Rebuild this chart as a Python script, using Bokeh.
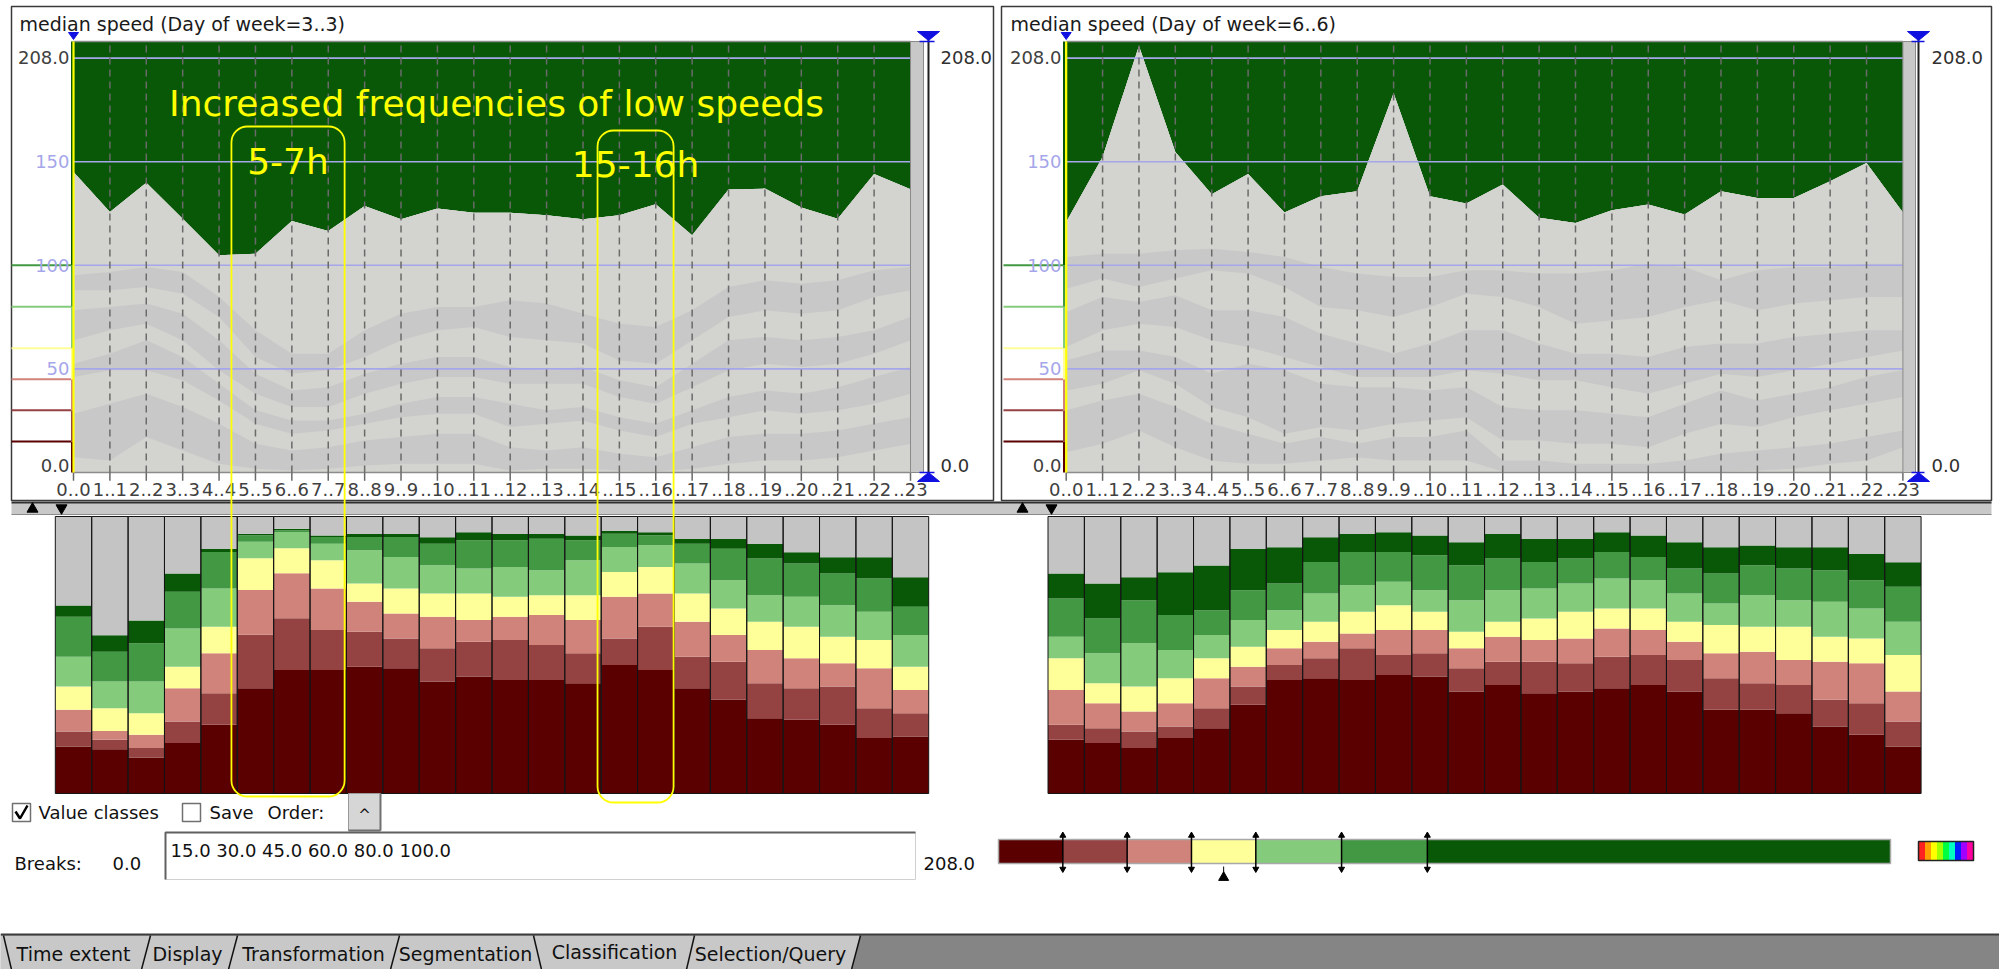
import numpy as np
from bokeh.plotting import figure
from bokeh.models import Range1d, BoxAnnotation
from bokeh.core.properties import value
from bokeh.embed import file_html
from bokeh.resources import INLINE

# ------------------------------------------------------------------ data
hours = list(range(24))
hour_labels = ["0..0", "1..1", "2..2", "3..3", "4..4", "5..5", "6..6", "7..7", "8..8", "9..9",
               "..10", "..11", "..12", "..13", "..14", "..15", "..16", "..17", "..18", "..19",
               "..20", "..21", "..22", "..23"]
panel_titles = ["median speed (Day of week=3..3)", "median speed (Day of week=6..6)"]
speed_max = 208.0
y_grid = [50, 100, 150, 200]
y_tick_pos = [200.5, 150, 100, 50, 3.5]
y_tick_labels = ["208.0", "150", "100", "50", "0.0"]
breaks = [15.0, 30.0, 45.0, 60.0, 80.0, 100.0]
breaks_text = "15.0 30.0 45.0 60.0 80.0 100.0"
class_colors = ["#5a0000", "#944242", "#d0837a", "#ffff99", "#84cc7c", "#439843", "#085808"]

# upper envelope of the speed profile (km/h)
wed_median = [145.0, 125.7, 139.8, 122.5, 104.8, 105.6, 121.4, 116.6, 128.6, 122.2, 127.4, 125.4,
              125.3, 124.2, 122.2, 124.2, 129.5, 114.5, 136.6, 137.0, 127.9, 122.5, 144.0, 136.7]
sat_median = [120.9, 152.3, 205.8, 154.7, 134.3, 144.0, 125.5, 133.3, 135.7, 183.0, 133.3, 129.8,
              139.0, 122.9, 120.4, 126.6, 129.3, 124.5, 135.7, 132.5, 132.5, 140.6, 149.4, 125.5]

# band boundaries inside the grey area (descending)
wed_bands = [
    [95.2, 96.8, 99.2, 96.8, 84.7, 68.6, 57.3, 57.3, 68.6, 76.6, 79.9, 79.9, 83.1, 81.5, 76.6, 71.8, 70.2, 78.3, 89.5, 92.8, 91.1, 92.8, 97.6, 99.2],
    [87.9, 87.9, 89.5, 86.3, 75.0, 55.7, 47.7, 49.3, 55.7, 63.8, 68.6, 70.2, 65.4, 63.8, 62.2, 54.1, 52.5, 63.8, 75.0, 78.3, 76.6, 78.3, 84.7, 87.9],
    [78.3, 79.9, 81.5, 76.6, 63.8, 47.7, 39.6, 41.2, 47.7, 52.5, 55.7, 55.7, 50.9, 49.3, 50.9, 44.5, 41.2, 52.5, 63.8, 65.4, 63.8, 65.4, 68.6, 75.0],
    [63.8, 68.6, 71.8, 63.8, 49.3, 38.0, 31.6, 31.6, 38.0, 42.8, 46.1, 46.1, 42.8, 42.8, 42.8, 36.4, 33.2, 41.2, 49.3, 52.5, 50.9, 52.5, 57.3, 63.8],
    [52.5, 57.3, 63.8, 55.7, 42.8, 30.0, 25.1, 25.1, 28.3, 33.2, 36.4, 36.4, 33.2, 30.0, 31.6, 26.7, 23.5, 30.0, 36.4, 39.6, 38.0, 41.2, 46.1, 50.9],
    [46.1, 49.3, 49.3, 44.5, 34.8, 23.5, 18.7, 20.3, 23.5, 26.7, 28.3, 28.3, 21.9, 23.5, 25.1, 20.3, 17.1, 23.5, 26.7, 30.0, 28.3, 30.0, 33.2, 38.0],
    [28.3, 33.2, 38.0, 31.6, 23.5, 13.9, 10.6, 12.2, 15.5, 17.1, 18.7, 18.7, 12.2, 10.6, 12.2, 9.0, 7.4, 12.2, 17.1, 18.7, 18.7, 20.3, 23.5, 26.7],
    [7.4, 5.8, 17.1, 10.6, 4.2, 1.8, 1.0, 1.8, 3.4, 4.2, 4.2, 4.2, 1.0, 1.8, 1.8, 1.0, 0.6, 1.8, 4.2, 5.8, 5.8, 7.4, 10.6, 13.9],
]
sat_bands = [
    [104.0, 105.6, 105.6, 107.2, 108.0, 106.4, 104.0, 99.2, 96.0, 94.4, 94.4, 97.6, 97.6, 96.0, 96.0, 97.6, 100.8, 99.2, 92.8, 97.6, 99.2, 99.2, 100.8, 100.8],
    [88.7, 93.6, 89.5, 93.6, 97.6, 96.0, 89.5, 79.9, 78.3, 75.0, 79.9, 86.3, 84.7, 79.9, 71.8, 73.4, 75.0, 79.9, 83.1, 78.3, 81.5, 83.1, 84.7, 84.7],
    [77.5, 84.7, 82.3, 85.5, 78.3, 78.3, 75.0, 67.0, 62.2, 57.3, 62.2, 68.6, 68.6, 62.2, 57.3, 57.3, 55.7, 60.6, 62.2, 62.2, 65.4, 67.0, 68.6, 68.6],
    [60.6, 68.6, 71.8, 70.2, 63.8, 60.6, 55.7, 50.9, 46.1, 46.1, 46.1, 49.3, 47.7, 44.5, 44.5, 41.2, 38.0, 42.8, 47.7, 46.1, 49.3, 52.5, 55.7, 58.9],
    [54.1, 58.9, 58.9, 55.7, 47.7, 52.5, 49.3, 42.8, 41.2, 41.2, 39.6, 41.2, 31.6, 30.0, 30.0, 28.3, 26.7, 33.2, 39.6, 34.8, 38.0, 41.2, 46.1, 49.3],
    [39.6, 42.8, 49.3, 42.8, 31.6, 26.7, 18.7, 21.9, 20.3, 23.5, 25.1, 26.7, 15.5, 15.5, 13.9, 13.9, 12.2, 18.7, 23.5, 21.9, 26.7, 30.0, 33.2, 36.4],
    [30.0, 34.8, 38.0, 31.6, 23.5, 18.7, 13.9, 17.1, 13.9, 17.1, 17.1, 20.3, 5.8, 5.8, 4.2, 4.2, 4.2, 5.8, 9.0, 10.6, 12.2, 13.9, 17.1, 20.3],
    [9.8, 13.9, 20.3, 12.2, 5.8, 4.2, 4.2, 5.8, 7.4, 5.8, 5.8, 5.8, 0.5, 0.5, 0.5, 0.5, 0.5, 0.5, 0.5, 1.0, 1.8, 4.2, 5.8, 12.2],
]

# share (%) of each speed class per hour, from slowest to fastest
wed_class_pct = [
    [17.0, 16.0, 13.0, 18.2, 24.8, 38.0, 44.6, 44.6, 45.8, 45.2, 40.4, 42.2, 41.0, 41.0, 39.8, 46.4, 44.6, 38.0, 33.8, 27.2, 26.6, 24.8, 20.0, 20.6],
    [5.4, 3.4, 3.4, 7.8, 11.4, 19.3, 18.7, 14.4, 12.6, 10.8, 12.0, 12.6, 14.4, 12.6, 10.8, 9.6, 15.6, 11.4, 13.8, 12.6, 11.4, 13.8, 10.8, 8.4],
    [7.8, 3.2, 4.8, 12.0, 14.4, 16.2, 16.2, 15.0, 10.8, 9.0, 11.4, 7.8, 8.4, 10.8, 12.0, 15.0, 12.0, 12.6, 9.6, 12.0, 10.8, 8.4, 14.4, 8.4],
    [8.4, 8.2, 7.8, 7.8, 9.6, 11.4, 9.0, 10.2, 6.6, 9.0, 8.4, 9.6, 7.2, 7.2, 9.0, 9.0, 9.6, 10.2, 9.6, 10.2, 11.4, 9.6, 10.2, 8.4],
    [10.8, 9.6, 11.4, 13.8, 13.8, 6.0, 5.9, 6.0, 12.0, 11.4, 10.2, 9.0, 10.8, 9.0, 12.6, 9.0, 7.8, 10.8, 10.2, 9.6, 10.8, 11.4, 10.2, 11.4],
    [14.4, 10.8, 13.8, 13.2, 13.2, 2.3, 0.6, 2.4, 4.8, 7.2, 7.8, 10.2, 9.6, 11.4, 7.2, 4.8, 3.6, 7.2, 11.4, 13.2, 12.0, 11.4, 12.0, 10.2],
    [4.1, 5.9, 8.3, 6.6, 1.1, 0.6, 0.6, 0.5, 1.1, 1.1, 2.3, 2.9, 2.3, 1.7, 1.7, 1.1, 1.1, 1.7, 3.5, 5.3, 4.1, 5.9, 7.7, 10.7],
]
sat_class_pct = [
    [19.4, 18.2, 16.4, 20.0, 23.6, 32.0, 41.0, 41.6, 41.0, 42.8, 42.2, 36.8, 39.2, 36.2, 36.8, 38.0, 39.2, 36.8, 30.2, 30.2, 29.0, 24.2, 21.2, 17.0],
    [5.4, 5.4, 6.0, 4.2, 7.2, 6.6, 5.4, 7.2, 11.4, 7.2, 8.4, 8.4, 8.4, 11.4, 10.2, 11.4, 10.8, 11.4, 11.4, 9.6, 10.2, 9.6, 11.4, 9.0],
    [12.6, 9.0, 7.2, 8.4, 10.8, 7.2, 6.0, 6.0, 5.4, 9.0, 8.4, 7.2, 9.0, 7.8, 9.0, 10.2, 9.0, 6.6, 9.0, 11.4, 9.0, 13.8, 14.4, 10.8],
    [11.4, 7.2, 9.0, 9.0, 7.2, 7.2, 6.6, 7.2, 7.8, 9.0, 6.6, 6.0, 5.4, 7.8, 9.6, 7.2, 7.8, 7.2, 10.2, 9.0, 12.0, 9.0, 9.0, 13.2],
    [7.8, 10.8, 15.6, 10.2, 8.4, 9.6, 7.2, 10.2, 9.6, 8.4, 7.8, 11.4, 11.4, 10.8, 10.2, 10.8, 10.2, 10.2, 7.8, 11.4, 9.6, 12.6, 10.8, 12.0],
    [13.8, 12.6, 15.6, 12.6, 9.0, 10.8, 9.6, 11.4, 12.0, 10.8, 12.6, 12.6, 11.4, 9.6, 9.0, 9.6, 8.4, 9.0, 10.8, 10.8, 11.4, 11.4, 10.2, 12.6],
    [9.0, 12.6, 8.3, 15.5, 16.1, 14.9, 13.1, 8.9, 6.5, 7.1, 7.1, 8.3, 8.9, 8.3, 7.1, 7.1, 7.7, 9.5, 9.5, 7.1, 7.7, 8.3, 9.5, 8.9],
]

annotation_title = "Increased frequencies of low speeds"
annotation_spans = [("5-7h", 4.34, 7.45), ("15-16h", 14.4, 16.49)]
tab_names = ["Time extent", "Display", "Transformation", "Segmentation", "Classification", "Selection/Query"]
rainbow_colors = ["#ff2020", "#ffa000", "#ffff00", "#a0ff00", "#00ff40", "#00ffc0", "#0020ff", "#a000ff", "#ff00a0"]

# ------------------------------------------------------------------ canvas
W, H = 1999, 969
X0, Y0 = 0, 0
FONT = value("DejaVu Sans")
GRAY = "#c8c8c8"
LIGHT = "#d3d3cf"
LAV = "#a6a6ea"

p = figure(width=W, height=H, output_backend="svg", toolbar_location=None,
           x_range=Range1d(X0, X0 + W), y_range=Range1d(Y0 + H, Y0),
           x_axis_location=None, y_axis_location=None, min_border=0)
p.grid.visible = False
p.outline_line_color = None
p.background_fill_color = "white"
p.border_fill_color = "white"


def lin_range(d0, p0, d1, p1, lo, hi):
    s = (p1 - p0) / (d1 - d0)
    return Range1d(start=d0 + (lo - p0) / s, end=d0 + (hi - p0) / s)


p.extra_x_ranges = {
    "wedx": lin_range(0, 73.0, 23, 910.0, X0, X0 + W),
    "satx": lin_range(0, 1065.7, 23, 1902.4, X0, X0 + W),
    "lgx": lin_range(0, 998.0, speed_max, 1890.0, X0, X0 + W),
}
p.extra_y_ranges = {
    "spd": lin_range(0, 472.0, speed_max, 41.0, Y0 + H, Y0),
    "pct": lin_range(0, 793.0, 100, 516.0, Y0 + H, Y0),
}


def txt(x, y, s, size="18px", color="#111111", align="left", baseline="middle", **kw):
    p.text(x=x, y=y, text=s, text_font=FONT, text_font_size=size, text_color=color,
           text_align=align, text_baseline=baseline, **kw)


geos = [
    dict(box=(11, 6, 993, 500), plot=(73.0, 910.0), lab_r=69, gbar=(910.0, 923.0), vline=928,
         rlab=940, title_x=19, cls=(11, 70.5), strip=(70.5, 72.7), tri=(32, 61), xr="wedx"),
    dict(box=(1001, 6, 1991, 500), plot=(1065.7, 1902.4), lab_r=1061, gbar=(1902.4, 1915.0), vline=1918,
         rlab=1931, title_x=1010, cls=(1003, 1062.5), strip=(1062.5, 1064.7), tri=(1022, 1051), xr="satx"),
]

# strip between the graphs and the bars
p.quad(left=[11], right=[1991], top=[502], bottom=[514], fill_color=GRAY, line_color=None)
p.segment(x0=[11], x1=[1991], y0=[502], y1=[502], line_color="#303030", line_width=2)
p.segment(x0=[11], x1=[1991], y0=[514], y1=[514], line_color="#8a8a8a", line_width=1)

for geo, env, bands, pct, title in zip(geos, [wed_median, sat_median], [wed_bands, sat_bands],
                                       [wed_class_pct, sat_class_pct], panel_titles):
    L, T, R, B = geo["box"]
    xr = geo["xr"]
    kw = dict(x_range_name=xr, y_range_name="spd")
    p.quad(left=[L], right=[R], top=[T], bottom=[B], fill_color="white", line_color="#3a3a3a", line_width=1.5)
    txt([geo["title_x"]], [23], [title], size="19px", color="#1a1a1a")

    top = [speed_max] * 24
    zero = [0.0] * 24
    p.varea(x=hours, y1=env, y2=top, fill_color="#085808", **kw)
    p.varea(x=hours, y1=zero, y2=env, fill_color=GRAY, **kw)
    p.varea(x=hours, y1=bands[0], y2=env, fill_color=LIGHT, **kw)
    for k in (1, 3, 5):
        p.varea(x=hours, y1=bands[k + 1], y2=bands[k], fill_color=LIGHT, **kw)
    p.varea(x=hours, y1=zero, y2=bands[7], fill_color=LIGHT, **kw)

    # grid & frame
    p.segment(x0=[0] * 4, x1=[23] * 4, y0=y_grid, y1=y_grid, line_color=LAV, line_width=1.6, **kw)
    p.segment(x0=[0, 0], x1=[23, 23], y0=[speed_max, 0], y1=[speed_max, 0], line_color="#8c8c8c",
              line_width=1.5, **kw)
    p.segment(x0=hours[1:23], x1=hours[1:23], y0=[0] * 22, y1=[speed_max] * 22, line_color="#6a6a6a",
              line_width=1.5, line_dash="7 5", **kw)
    p.segment(x0=hours, x1=hours, y0=[0] * 24, y1=[-4] * 24, line_color="#6a6a6a", line_width=1.5, **kw)

    # right slider bar
    g0, g1 = geo["gbar"]
    p.quad(left=[g0], right=[g1], bottom=[0], top=[speed_max], fill_color=GRAY, line_color="#8a8a8a",
           y_range_name="spd")
    v = geo["vline"]
    p.segment(x0=[v], x1=[v], y0=[-1.5], y1=[speed_max + 1.5], line_color="#202020", line_width=2,
              y_range_name="spd")
    p.segment(x0=[g1 - 4, g1 - 4], x1=[v + 6, v + 6], y0=[speed_max, 0], y1=[speed_max, 0],
              line_color="#1010e0", line_width=1.5, y_range_name="spd")
    p.patches(xs=[[v - 11, v + 11, v], [v - 11, v + 11, v]], ys=[[31, 31, 40], [481, 481, 472]],
              fill_color="#1010e0", line_color="#1010e0")
    pl = geo["plot"][0]
    p.patches(xs=[[pl - 5, pl + 5, pl]], ys=[[32, 32, 39]], fill_color="#1010e0", line_color="#1010e0")

    # class legend along the left axis
    s0, s1 = geo["strip"]
    p.quad(left=[s0] * 7, right=[s1] * 7, bottom=[0.0] + breaks, top=breaks + [speed_max],
           fill_color=class_colors, line_color=None, y_range_name="spd")
    c0, c1 = geo["cls"]
    p.segment(x0=[c0] * 6, x1=[c1] * 6, y0=breaks, y1=breaks, line_color=class_colors[:6], line_width=2,
              y_range_name="spd")
    p.segment(x0=[0], x1=[0], y0=[0], y1=[speed_max], line_color="#ffff00", line_width=2.2, **kw)

    # axis labels
    txt([geo["lab_r"]] * 5, y_tick_pos, y_tick_labels, size="18px",
        color=["#404040", LAV, LAV, LAV, "#404040"], align="right", y_range_name="spd")
    txt([geo["rlab"]] * 2, [y_tick_pos[0], y_tick_pos[-1]], ["208.0", "0.0"], size="18px", color="#303030",
        y_range_name="spd")
    txt(hours, [489] * 24, hour_labels, size="18px", color="#404040", align="center", x_range_name=xr)

    # UI arrows on the strip
    t0, t1 = geo["tri"]
    p.scatter(x=[t0], y=[508.5], marker="triangle", size=11, fill_color="black", line_color="black")
    p.scatter(x=[t1], y=[507.5], marker="inverted_triangle", size=11, fill_color="black", line_color="black")

    # stacked class bars
    cum = np.zeros(24)
    for share, col in zip(pct, class_colors):
        nxt = cum + np.array(share)
        p.vbar(x=hours, width=1, bottom=cum, top=nxt, fill_color=col, line_color=None,
               x_range_name=xr, y_range_name="pct")
        cum = nxt
    p.vbar(x=hours, width=1, bottom=cum, top=[100] * 24, fill_color="#c4c4c4", line_color=None,
           x_range_name=xr, y_range_name="pct")
    p.vbar(x=hours, width=1, bottom=[0] * 24, top=[100] * 24, fill_color=None, line_color="#141414",
           line_width=1, x_range_name=xr, y_range_name="pct")

# yellow annotations (left panel)
txt([496], [103], [annotation_title], size="36px", color="#ffff00", align="center")
for (lab, h0, h1), (ytop, ybot, yc) in zip(annotation_spans, [(126, 796, 161), (130, 802, 164)]):
    p.add_layout(BoxAnnotation(left=h0, right=h1, top=ytop, bottom=ybot, x_range_name="wedx",
                               fill_color=None, fill_alpha=0, line_color="#ffff00", line_alpha=1.0,
                               line_width=1.8, border_radius=16))
    p.text(x=[(h0 + h1) / 2], y=[yc], text=[lab], text_font=FONT, text_font_size="36px",
           text_color="#ffff00", text_align="center", text_baseline="middle", x_range_name="wedx")

# ------------------------------------------------------------------ controls
p.quad(left=[12, 182], right=[30, 200], top=[803, 803], bottom=[821, 821], fill_color="white",
       line_color="#707070", line_width=1.5)
p.line(x=[15, 19.5, 27], y=[811, 818, 805], line_color="black", line_width=2.5)
txt([38], [812], ["Value classes"], size="18px")
txt([209], [812], ["Save"], size="18px")
txt([267], [812], ["Order:"], size="18px")
p.quad(left=[348], right=[380], top=[793], bottom=[830], fill_color="#d6d6d6", line_color="#9a9a9a")
p.segment(x0=[348, 380], x1=[380, 380], y0=[830, 793], y1=[830, 830], line_color="#707070", line_width=2)
txt([364], [814], ["^"], size="15px", align="center")

txt([14], [863], ["Breaks:"], size="18px")
txt([112], [863], ["0.0"], size="18px")
p.quad(left=[165], right=[915], top=[832], bottom=[879], fill_color="white", line_color="#d0d0d0")
p.line(x=[165, 165, 915], y=[879, 832, 832], line_color="#606060", line_width=2)
txt([170], [850], [breaks_text], size="18px")
txt([923], [863], ["208.0"], size="18px")

# class legend bar
p.quad(left=[0.0] + breaks, right=breaks + [speed_max], top=[839] * 7, bottom=[863] * 7,
       fill_color=class_colors, line_color=None, x_range_name="lgx")
p.quad(left=[0.0], right=[speed_max], top=[839], bottom=[863], fill_color=None, line_color="#a8a8a8",
       line_width=1.5, x_range_name="lgx")
p.segment(x0=breaks, x1=breaks, y0=[833] * 6, y1=[870] * 6, line_color="black", line_width=1.5,
          x_range_name="lgx")
p.scatter(x=breaks, y=[835] * 6, marker="triangle", size=6, fill_color="black", line_color="black",
          x_range_name="lgx")
p.scatter(x=breaks, y=[868.5] * 6, marker="inverted_triangle", size=6, fill_color="black",
          line_color="black", x_range_name="lgx")
mid_yel = (breaks[2] + breaks[3]) / 2
p.segment(x0=[mid_yel], x1=[mid_yel], y0=[866], y1=[873], line_color="black", line_width=1,
          x_range_name="lgx")
p.scatter(x=[mid_yel], y=[877], marker="triangle", size=10, fill_color="black", line_color="black",
          x_range_name="lgx")
rx = np.linspace(1918.5, 1972.5, len(rainbow_colors) + 1)
p.quad(left=rx[:-1], right=rx[1:], top=[841] * len(rainbow_colors), bottom=[860] * len(rainbow_colors),
       fill_color=rainbow_colors, line_color=None)
p.quad(left=[1918], right=[1973], top=[841], bottom=[860], fill_color=None, line_color="#222222",
       line_width=1.5)

# ------------------------------------------------------------------ tabs
p.quad(left=[X0], right=[X0 + W], top=[934], bottom=[Y0 + H], fill_color="#858585", line_color=None)
p.patch(x=[X0, 860, 851, X0], y=[935, 935, Y0 + H, Y0 + H], fill_color=GRAY, line_color=None)
p.segment(x0=[X0], x1=[X0 + W], y0=[934], y1=[934], line_color="#3c3c3c", line_width=2)
sep_top = [3, 150, 237, 399, 533, 694, 860]
sep_bot = [11, 141, 228, 390, 541, 686, 851]
p.segment(x0=sep_top, x1=sep_bot, y0=[935] * 7, y1=[Y0 + H] * 7, line_color="#111111", line_width=1.5)
tab_cx = [73, 187, 313, 465, 614, 770]
tab_cy = [953, 953, 953, 953, 951, 953]
txt(tab_cx, tab_cy, tab_names, size="19px", align="center")

open("out.html", "w").write(file_html(p, INLINE))
